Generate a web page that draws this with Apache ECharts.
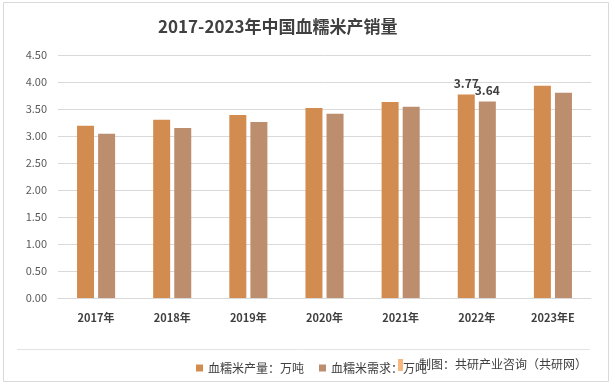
<!DOCTYPE html>
<html>
<head>
<meta charset="utf-8">
<script src="https://cdn.jsdelivr.net/npm/echarts@6/dist/echarts.min.js"></script>
<style>
html,body{margin:0;padding:0;background:#fff;}
#chart{width:615px;height:389px;}
</style>
</head>
<body>
<div id="chart"></div>
<script>
const categories = ['2017年','2018年','2019年','2020年','2021年','2022年','2023年E'];
const production = [3.19, 3.30, 3.39, 3.52, 3.63, 3.77, 3.93];
const demand = [3.04, 3.15, 3.26, 3.41, 3.54, 3.64, 3.80];
const labeledIndex = 5;
const seriesNames = ['血糯米产量：万吨', '血糯米需求：万吨'];
const titleText = '2017-2023年中国血糯米产销量';
const sourceText = '制图：共研产业咨询（共研网）';

const font = '"Noto Sans CJK SC", "Noto Sans", sans-serif';
const chart = echarts.init(document.getElementById('chart'));

function toData(arr) {
  return arr.map((v, i) => ({
    value: v,
    label: { show: i === labeledIndex }
  }));
}

chart.setOption({
  animation: false,
  backgroundColor: '#ffffff',
  textStyle: { fontFamily: font },
  grid: { left: 58, right: 24, top: 55, bottom: 91, containLabel: false },
  legend: {
    left: 191, top: 357,
    itemWidth: 7, itemHeight: 7, itemGap: 15,
    icon: 'rect',
    textStyle: { fontSize: 12, color: '#404040', fontFamily: font },
    data: seriesNames
  },
  xAxis: {
    type: 'category',
    data: categories,
    axisLine: { lineStyle: { color: '#d9d9d9', width: 1 } },
    axisTick: { show: false },
    axisLabel: { fontSize: 11, color: '#404040', fontWeight: 'bold', margin: 14, fontFamily: font }
  },
  yAxis: {
    type: 'value',
    min: 0, max: 4.5, interval: 0.5,
    axisLine: { show: false },
    axisTick: { show: false },
    splitLine: { lineStyle: { color: '#d9d9d9', width: 1 } },
    axisLabel: { fontSize: 11, color: '#595959', margin: 11, fontFamily: font,
      formatter: v => v.toFixed(2) }
  },
  series: [
    {
      name: seriesNames[0], type: 'bar', barWidth: 17, barGap: '24%',
      itemStyle: { color: '#D38C4F' },
      label: { position: 'top', distance: 5, fontSize: 12, fontWeight: 'bold', color: '#404040',
        fontFamily: font, formatter: p => p.value.toFixed(2) },
      data: toData(production)
    },
    {
      name: seriesNames[1], type: 'bar', barWidth: 17,
      itemStyle: { color: '#BC8E6D' },
      label: { position: 'top', distance: 5, fontSize: 12, fontWeight: 'bold', color: '#404040',
        fontFamily: font, formatter: p => p.value.toFixed(2) },
      data: toData(demand)
    }
  ],
  graphic: [
    { type: 'rect', shape: { x: 3.5, y: 2.5, width: 605, height: 379 }, silent: true,
      style: { fill: 'none', stroke: '#d9d9d9', lineWidth: 1 } },
    { type: 'line', shape: { x1: 17, y1: 349.5, x2: 590, y2: 349.5 }, silent: true,
      style: { stroke: '#e3e3e3', lineWidth: 1 } },
    { type: 'text', x: 158, y: 27, silent: true,
      style: { text: titleText, font: 'bold 17px ' + font, fill: '#404040', verticalAlign: 'middle', align: 'left' } },
    { type: 'rect', shape: { x: 398, y: 359, width: 5, height: 12 }, silent: true,
      style: { fill: '#F09A4A', opacity: 0.7 } },
    { type: 'text', x: 419, y: 364, silent: true,
      style: { text: sourceText, font: '12px ' + font, fill: '#404040', verticalAlign: 'middle', align: 'left' } }
  ]
});
</script>
</body>
</html>
